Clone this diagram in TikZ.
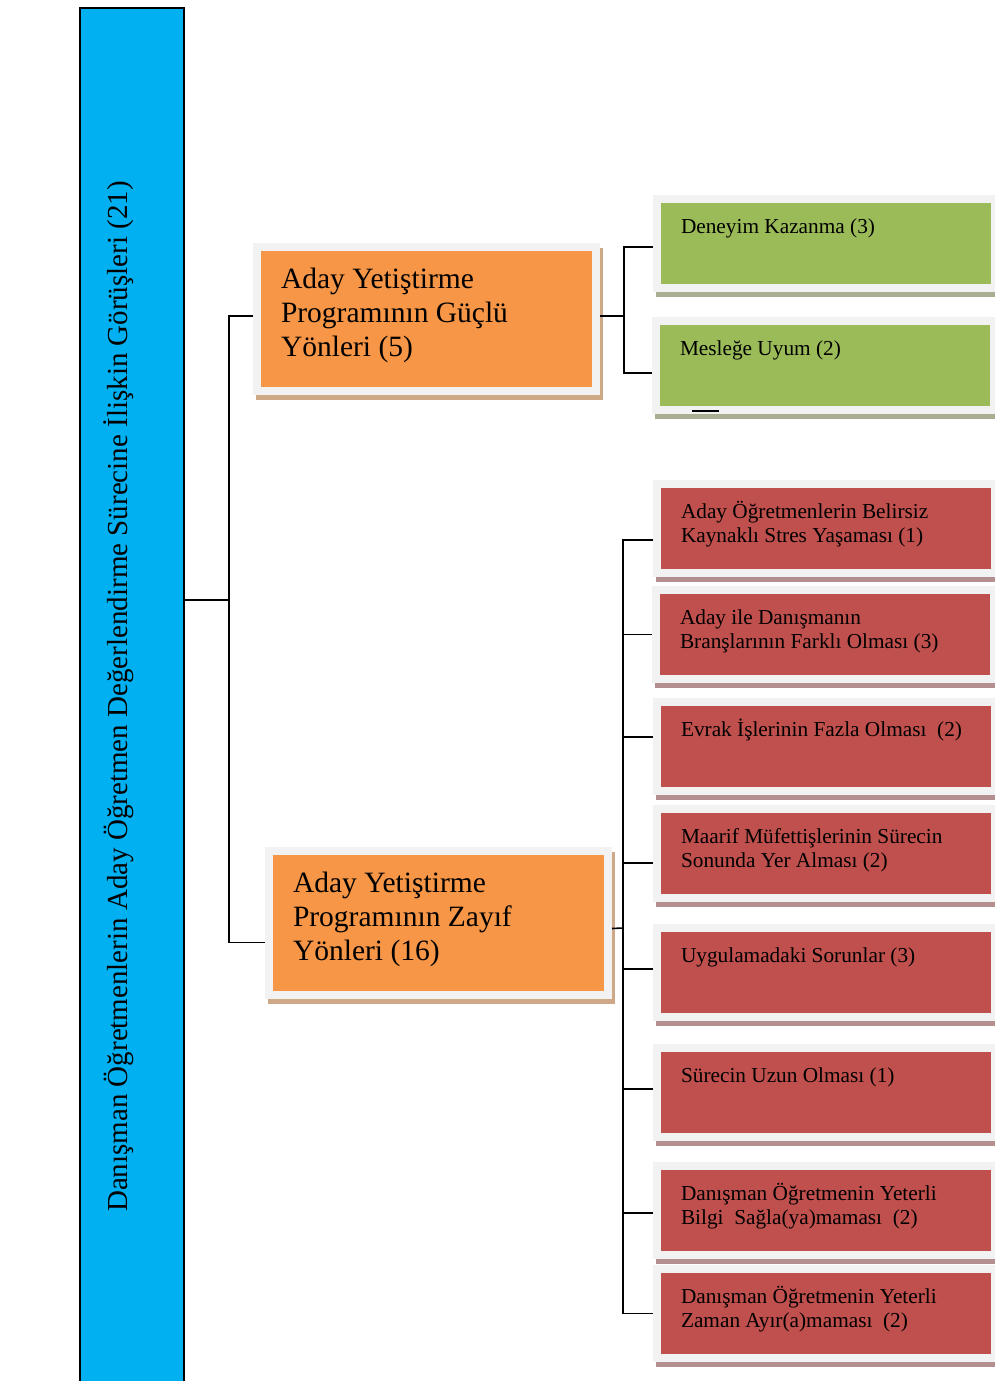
\documentclass[tikz,border=0pt]{standalone}
\usepackage{fontspec}
\setmainfont{Liberation Serif}
\usepackage{xcolor}
\usepackage{tikz}
\definecolor{barblue}{HTML}{00B0F0}
\definecolor{boxorange}{HTML}{F79646}
\definecolor{boxgreen}{HTML}{9BBB59}
\definecolor{boxred}{HTML}{C0504D}
\definecolor{framegray}{HTML}{F2F2F2}
\definecolor{shorange}{HTML}{CFA888}
\definecolor{shgreen}{HTML}{A7AE92}
\definecolor{shred}{HTML}{B38F8F}
\tikzset{
	x=1pt, y=-1pt, % pixel coordinates, y going down
	link/.style={draw=black, line width=1.6pt}, % the tree lines
	card/.style={draw=framegray, line width=8pt, anchor=north west, inner xsep=24pt, inner ysep=10pt}, % light frame round each box
	shade it/.style={preaction={draw=#1, fill=#1, line width=8pt, transform canvas={xshift=3pt, yshift=-5pt}}},
	mainbox/.style={card, fill=boxorange, shade it=shorange, font=\fontsize{29.5}{34}\selectfont},
	plusbox/.style={card, fill=boxgreen, shade it=shgreen, font=\fontsize{21.3}{24.5}\selectfont},
	minusbox/.style={card, fill=boxred, shade it=shred, font=\fontsize{21.3}{24.5}\selectfont},
	rootbar/.style={draw=black, line width=1.5pt, fill=barblue, rotate=90, minimum width=1377pt, minimum height=104pt, inner sep=0pt, text height=20pt, text depth=30pt, font=\fontsize{29}{34}\selectfont},
}
\newcommand{\bigtext}[1]{\parbox[t][124pt][t]{291pt}{\raggedright\rule{0pt}{31pt}#1}}
\newcommand{\smalltext}[1]{\parbox[t][69pt][t]{290pt}{\raggedright\rule{0pt}{24pt}#1}}

\begin{document}
\begin{tikzpicture}
	\useasboundingbox (0,0) rectangle (995,1381);
	% Root
	\node[rootbar] (b) at (132,696.5) {Danışman Öğretmenlerin Aday Öğretmen Değerlendirme Sürecine İlişkin Görüşleri (21)};
	
	% Strong and weak sides
	\node[mainbox] (s) at (253,243) {\bigtext{Aday Yetiştirme\\Programının Güçlü\\Yönleri (5)}};
	\node[mainbox] (w) at (265,847) {\bigtext{Aday Yetiştirme\\Programının Zayıf\\Yönleri (16)}};
	
	% Leaves
	\node[plusbox] (s1) at (653,195) {\smalltext{Deneyim Kazanma (3)}};
	\node[plusbox] (s2) at (652,317) {\smalltext{Mesleğe Uyum (2)}};
	\node[minusbox] (w1) at (653,480) {\smalltext{Aday Öğretmenlerin Belirsiz\\Kaynaklı Stres Yaşaması (1)}};
	\node[minusbox] (w2) at (652,586) {\smalltext{Aday ile Danışmanın\\Branşlarının Farklı Olması (3)}};
	\node[minusbox] (w3) at (653,698) {\smalltext{Evrak İşlerinin Fazla Olması~ (2)}};
	\node[minusbox] (w4) at (653,805) {\smalltext{Maarif Müfettişlerinin Sürecin\\Sonunda Yer Alması (2)}};
	\node[minusbox] (w5) at (653,924) {\smalltext{Uygulamadaki Sorunlar (3)}};
	\node[minusbox] (w6) at (653,1044) {\smalltext{Sürecin Uzun Olması (1)}};
	\node[minusbox] (w7) at (653,1162) {\smalltext{Danışman Öğretmenin Yeterli\\Bilgi~ Sağla(ya)maması~ (2)}};
	\node[minusbox] (w8) at (653,1265) {\smalltext{Danışman Öğretmenin Yeterli\\Zaman Ayır(a)maması~ (2)}};
	
	% Lines
	\coordinate (j0) at (229,600);
	\coordinate (j1) at (624,316);
	\coordinate (j2) at (623,928);
	\draw[link] (b.south |- j0) -- (j0);
	\draw[link] ([yshift=3pt]s.west) -| (j0) |- ([yshift=-19.5pt]w.west);
	\draw[link] ([yshift=3pt]s.east) -- (j1);
	\draw[link] ([yshift=-3.5pt]s1.west) -| (j1) |- ([yshift=-7.5pt]s2.west);
	\draw[link] ([xshift=40pt,yshift=3pt]s2.south west) -- ([xshift=67pt,yshift=3pt]s2.south west);
	\draw[link] ([yshift=-5.5pt]w.east) -- (j2);
	\draw[link] ([yshift=-11.5pt]w1.west) -| (j2) |- (w8.west);
	\foreach \n/\dy in {w2/0, w3/9.5, w4/-9.5, w5/3.5, w6/3.5, w7/-2.5}
		\draw[link] ([yshift=\dy pt]\n.west) -| (j2);
	
\end{tikzpicture}
\end{document}
